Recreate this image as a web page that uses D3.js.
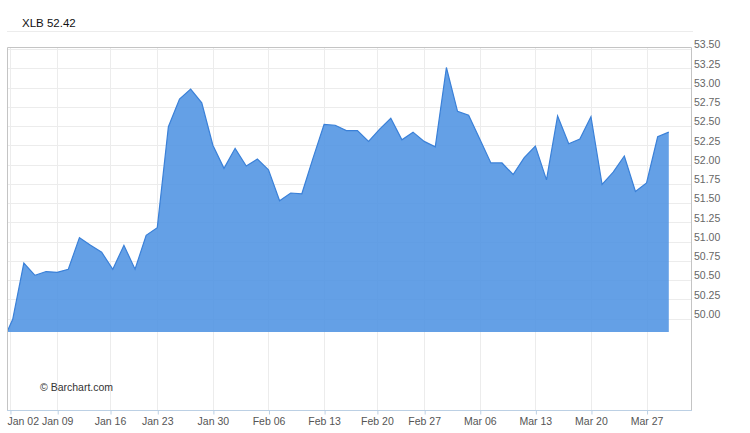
<!DOCTYPE html>
<html>
<head>
<meta charset="utf-8">
<script src="https://cdn.jsdelivr.net/npm/d3@7/dist/d3.min.js"></script>
<style>
  html, body { margin: 0; padding: 0; background: #fff; }
  svg { display: block; font-family: "Liberation Sans", Arial, sans-serif; }
</style>
</head>
<body>
<svg id="chart" width="750" height="433"></svg>
<script>
const title = "XLB 52.42";
const credit = "\u00a9 Barchart.com";

// trading days, Dec 30 2016 .. Mar 29 2017
const dates = [
    "2016-12-30",
    "2017-01-03", "2017-01-04", "2017-01-05", "2017-01-06",
    "2017-01-09", "2017-01-10", "2017-01-11", "2017-01-12", "2017-01-13",
    "2017-01-17", "2017-01-18", "2017-01-19", "2017-01-20",
    "2017-01-23", "2017-01-24", "2017-01-25", "2017-01-26", "2017-01-27",
    "2017-01-30", "2017-01-31", "2017-02-01", "2017-02-02", "2017-02-03",
    "2017-02-06", "2017-02-07", "2017-02-08", "2017-02-09", "2017-02-10",
    "2017-02-13", "2017-02-14", "2017-02-15", "2017-02-16", "2017-02-17",
    "2017-02-21", "2017-02-22", "2017-02-23", "2017-02-24",
    "2017-02-27", "2017-02-28", "2017-03-01", "2017-03-02", "2017-03-03",
    "2017-03-06", "2017-03-07", "2017-03-08", "2017-03-09", "2017-03-10",
    "2017-03-13", "2017-03-14", "2017-03-15", "2017-03-16", "2017-03-17",
    "2017-03-20", "2017-03-21", "2017-03-22", "2017-03-23", "2017-03-24",
    "2017-03-27", "2017-03-28", "2017-03-29"
];

const closes = [
    49.67,
    49.99, 50.72, 50.56, 50.61,
    50.60, 50.64, 51.05, 50.95, 50.86,
    50.64, 50.95, 50.64, 51.08,
    51.18, 52.49, 52.85, 52.98, 52.80,
    52.25, 51.95, 52.21, 51.98, 52.07,
    51.93, 51.53, 51.63, 51.62, 52.08,
    52.52, 52.51, 52.44, 52.44, 52.30,
    52.46, 52.60, 52.32, 52.42,
    52.30, 52.23, 53.26, 52.69, 52.64,
    52.33, 52.02, 52.02, 51.87, 52.09,
    52.24, 51.80, 52.63, 52.27, 52.33,
    52.62, 51.74, 51.90, 52.11, 51.65,
    51.76, 52.36, 52.42
];

const tickDates = [
    "2017-01-02", "2017-01-09", "2017-01-16", "2017-01-23", "2017-01-30",
    "2017-02-06", "2017-02-13", "2017-02-20", "2017-02-27",
    "2017-03-06", "2017-03-13", "2017-03-20", "2017-03-27"
];
const tickLabels = [
    "Jan 02", "Jan 09", "Jan 16", "Jan 23", "Jan 30",
    "Feb 06", "Feb 13", "Feb 20", "Feb 27",
    "Mar 06", "Mar 13", "Mar 20", "Mar 27"
];

const priceTicks = [50.00, 50.25, 50.50, 50.75, 51.00, 51.25, 51.50, 51.75,
                    52.00, 52.25, 52.50, 52.75, 53.00, 53.25, 53.50];

const parse = d3.utcParse("%Y-%m-%d");
const days = dates.map(parse);

// holiday / weekend dates sit between the trading days around them
function dateToIndex(d) {
    const t = parse(d);
    const i = d3.bisectRight(days, t) - 1;
    if (i < 0) return 0;
    if (i >= days.length - 1) return days.length - 1;
    return i + (t - days[i]) / (days[i + 1] - days[i]);
}

const frame = { left: 7, right: 691, top: 47, bottom: 410 };
const paneBottom = 332;   // lower edge of the price pane

const svg = d3.select("#chart");

const x = d3.scaleLinear()
    .domain([0, dates.length - 1])
    .range([1.6, 668.8]);

const y = d3.scaleLinear()
    .domain([50, 53.5])
    .range([318.5, 49]);

// header
svg.append("text")
    .attr("x", 22)
    .attr("y", 27)
    .attr("font-size", 11.5)
    .attr("fill", "#111")
    .text(title);

svg.append("line")
    .attr("x1", frame.left).attr("x2", 693)
    .attr("y1", 31.5).attr("y2", 31.5)
    .attr("stroke", "#ececec");

// grid
const tickIdx = tickDates.map(dateToIndex);

svg.append("g")
    .selectAll("line")
    .data(priceTicks)
    .join("line")
    .attr("x1", frame.left).attr("x2", frame.right)
    .attr("y1", d => Math.round(y(d)) + 0.5)
    .attr("y2", d => Math.round(y(d)) + 0.5)
    .attr("stroke", "#ececec");

svg.append("g")
    .selectAll("line")
    .data(tickIdx)
    .join("line")
    .attr("x1", d => Math.round(x(d)) + 0.5)
    .attr("x2", d => Math.round(x(d)) + 0.5)
    .attr("y1", frame.top).attr("y2", frame.bottom)
    .attr("stroke", "#ececec");

// price area
svg.append("clipPath")
    .attr("id", "pane")
    .append("rect")
    .attr("x", frame.left).attr("y", frame.top)
    .attr("width", frame.right - frame.left)
    .attr("height", paneBottom - frame.top);

const series = closes.map((c, i) => [i, c]);

svg.append("path")
    .datum(series)
    .attr("clip-path", "url(#pane)")
    .attr("fill", "#4a90e2")
    .attr("fill-opacity", 0.86)
    .attr("d", d3.area()
        .x(d => x(d[0]))
        .y0(paneBottom)
        .y1(d => y(d[1]))
    );

svg.append("path")
    .datum(series)
    .attr("clip-path", "url(#pane)")
    .attr("fill", "none")
    .attr("stroke", "#3a80d8")
    .attr("stroke-width", 1.2)
    .attr("d", d3.line()
        .x(d => x(d[0]))
        .y(d => y(d[1]))
    );

// frame
svg.append("path")
    .attr("d", `M${frame.left + 0.5},${frame.bottom}V${frame.top + 0.5}H${frame.right + 0.5}V${frame.bottom}`)
    .attr("fill", "none")
    .attr("stroke", "#c4c4c4");

// x axis
const xAxis = svg.append("g")
    .attr("transform", `translate(0,${frame.bottom + 0.5})`)
    .call(d3.axisBottom(x)
        .tickValues(tickIdx)
        .tickFormat((d, i) => tickLabels[i])
        .tickSize(4)
        .tickSizeOuter(0)
    );
xAxis.select(".domain")
    .attr("d", `M${frame.left},0H${frame.right + 1}`)
    .attr("stroke", "#bcd0e4");
xAxis.selectAll(".tick line")
    .attr("stroke", "#bcd0e4")
    .attr("transform", "translate(0.5,0)");
xAxis.selectAll(".tick text")
    .attr("y", 7)
    .attr("font-family", "Liberation Sans, Arial, sans-serif")
    .attr("font-size", 10.5)
    .attr("fill", "#555");
// first label is pushed right so it stays inside the frame
xAxis.select(".tick text")
    .attr("text-anchor", "start")
    .attr("x", frame.left - x(tickIdx[0]));

// price axis
const yAxis = svg.append("g")
    .attr("transform", `translate(${frame.right + 2},0)`)
    .call(d3.axisRight(y)
        .tickValues(priceTicks)
        .tickFormat(d3.format(".2f"))
        .tickSize(0)
    );
yAxis.select(".domain").remove();
yAxis.selectAll(".tick text")
    .attr("x", 1)
    .attr("dy", "-0.12em")
    .attr("font-family", "Liberation Sans, Arial, sans-serif")
    .attr("font-size", 10.5)
    .attr("fill", "#666");

// credit
svg.append("text")
    .attr("x", 40)
    .attr("y", 390.5)
    .attr("font-size", 10.5)
    .attr("fill", "#333")
    .text(credit);
</script>
</body>
</html>
